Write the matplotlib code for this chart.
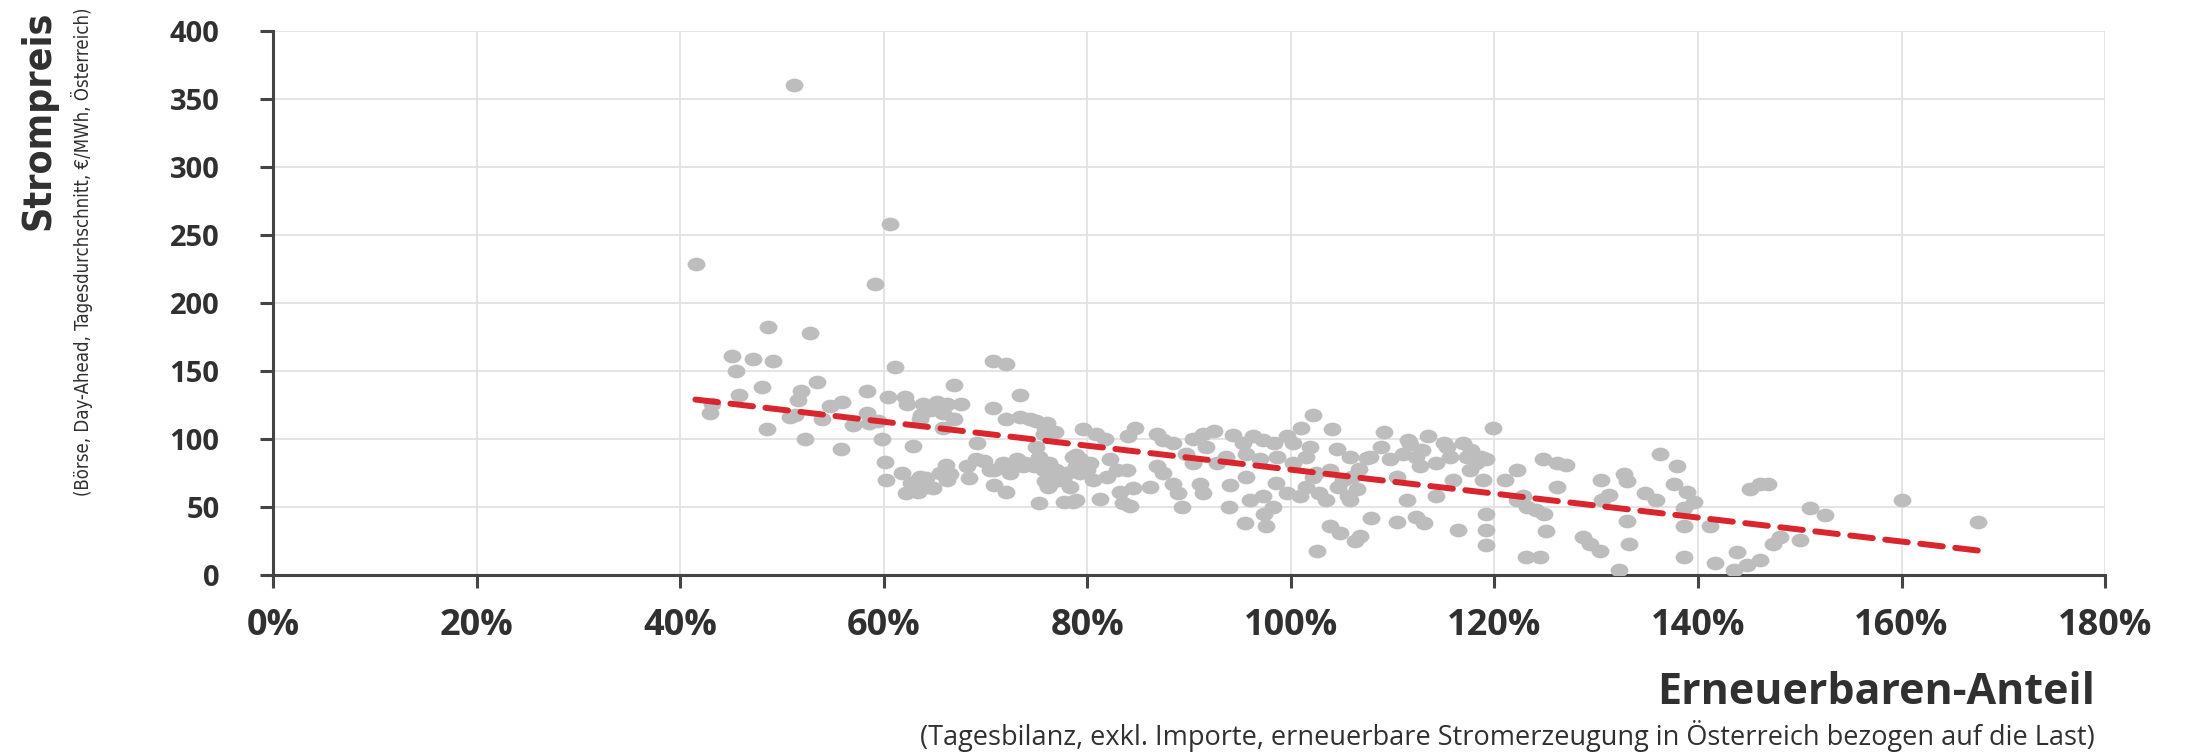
import matplotlib
matplotlib.use("Agg")
import matplotlib.pyplot as plt
from matplotlib import font_manager as fm
from matplotlib.font_manager import FontProperties
from matplotlib.path import Path
from matplotlib.transforms import Affine2D

# Renewable share of daily demand (%) and day-ahead price (EUR/MWh), one point per day
share = [
    41.6, 42.9, 43.1, 45.1, 45.5, 45.8, 47.2, 48.0, 48.6, 48.5, 49.1, 50.8, 51.2, 51.3,
    51.6, 51.9, 52.3, 52.8, 53.4, 53.9, 54.7, 55.8, 55.9, 57.0, 58.4, 58.4, 58.6, 59.4,
    59.1, 59.8, 60.1, 60.2, 60.4, 60.6, 61.1, 61.8, 62.1, 62.3, 62.2, 62.7, 62.9, 63.4,
    63.4, 63.6, 63.6, 63.7, 63.9, 64.3, 64.2, 64.6, 64.8, 65.2, 65.5, 65.8, 65.8, 66.1,
    66.2, 66.5, 66.2, 66.9, 66.9, 67.6, 68.2, 68.4, 69.1, 69.2, 69.9, 70.4, 70.7, 70.8,
    70.8, 70.7, 71.7, 72.0, 72.0, 72.0, 72.4, 72.5, 73.1, 73.4, 73.4, 73.7, 73.9, 74.4,
    74.8, 75.0, 75.0, 75.3, 75.3, 75.7, 75.7, 75.8, 75.8, 76.1, 76.0, 76.2, 76.3, 76.8,
    76.9, 77.0, 77.6, 77.7, 77.3, 78.0, 78.3, 78.6, 78.6, 78.9, 78.9, 78.9, 79.3, 79.3,
    79.6, 80.0, 80.3, 80.6, 80.9,
    81.7, 84.7, 84.0, 86.8, 87.4, 88.4, 90.4, 91.4, 92.4, 91.7, 94.3, 95.3, 96.3, 97.3,
    98.3, 99.6, 100.2, 101.0, 102.2, 82.2, 82.9, 83.9, 81.9, 86.8, 87.4, 89.7, 90.4, 92.7,
    93.6, 81.2, 83.2, 84.5, 86.2, 83.5, 84.2, 88.4, 88.9, 89.3, 91.1, 91.4, 94.0, 93.9,
    95.6, 96.0, 95.5, 97.3, 97.4, 97.6, 98.2, 98.5, 99.6, 100.9, 101.5, 102.2, 102.6, 95.6,
    97.0, 98.6, 100.2, 101.5,
    104.0, 109.2, 113.5, 111.7, 115.0, 116.9, 119.9, 101.9, 104.5, 105.8, 107.8, 108.9,
    109.7, 111.0, 112.3, 112.7, 114.3, 115.6, 117.3, 118.2, 119.2, 102.5, 103.8, 105.1,
    106.5, 102.8, 103.5, 105.8, 110.4, 111.4, 114.3, 115.9, 117.6, 118.9, 119.2, 119.2,
    119.2, 103.8, 104.8, 106.3, 106.8, 107.9, 110.4, 112.3, 113.1, 116.4, 121.0, 122.2,
    122.8, 124.1, 124.8, 126.1, 126.1, 125.1, 123.1, 124.5, 106.0, 106.7, 107.5, 104.6,
    105.6, 112.9, 115.3, 117.7, 118.7, 111.5, 127.0, 124.9, 122.2, 123.2,
    136.3, 137.9, 130.5, 132.7, 133.0, 131.3, 130.6, 134.8, 135.9, 137.6, 138.9, 139.6,
    138.6, 133.0, 138.6, 128.7, 129.4, 130.4, 133.2, 138.6, 132.2, 145.1, 146.1, 146.9,
    141.2, 141.7, 143.8, 143.5, 144.8, 146.1, 147.4, 148.1, 150.0, 151.0, 152.5, 160.0,
    167.5,
]
price = [
    229, 119, 126, 161, 150, 132, 159, 138, 182, 107, 157, 116, 360, 118,
    129, 135, 100, 178, 142, 115, 124, 93, 127, 110, 135, 119, 112, 113,
    214, 100, 83, 70, 131, 258, 153, 75, 131, 126, 60, 68, 95, 70,
    61, 72, 115, 118, 126, 65, 71, 121, 64, 127, 75, 108, 119, 81,
    126, 74, 70, 115, 140, 126, 80, 71, 85, 97, 84, 77, 123, 66,
    77, 157, 82, 61, 155, 115, 75, 80, 85, 132, 116, 80, 82, 115,
    80, 94, 113, 87, 53, 104, 77, 108, 69, 65, 112, 82, 67, 105,
    77, 75, 70, 54, 70, 75, 65, 87, 54, 80, 88, 55, 85, 75,
    107, 77, 82, 70, 104,
    100, 108, 102, 104, 99, 97, 100, 104, 106, 94, 103, 97, 102, 99,
    97, 102, 97, 108, 118, 85, 77, 77, 72, 80, 75, 89, 82, 82,
    87, 56, 61, 64, 65, 53, 51, 67, 60, 50, 67, 60, 66, 50,
    72, 55, 38, 58, 45, 36, 50, 68, 60, 58, 65, 72, 18, 89,
    85, 87, 82, 87,
    107, 105, 102, 96, 97, 97, 108, 94, 93, 87, 87, 94,
    85, 89, 87, 80, 82, 87, 87, 82, 85, 75, 77, 70,
    63, 60, 55, 55, 72, 55, 58, 70, 77, 70, 45, 33,
    22, 36, 31, 25, 29, 42, 39, 43, 38, 33, 70, 77,
    58, 48, 85, 82, 65, 32, 13, 13, 72, 78, 86, 65,
    58, 92, 94, 92, 87, 99, 81, 45, 55, 50,
    89, 80, 70, 74, 69, 59, 55, 60, 55, 67, 61, 54,
    49, 40, 36, 28, 23, 18, 23, 13, 4, 63, 67, 67,
    36, 9, 17, 4, 7, 11, 23, 28, 26, 49, 44, 55,
    39,
]

# Linear trend drawn across the range of the data
trend_share = [41.5, 167.5]
trend_price = [129, 18]

x_ticks = [0, 20, 40, 60, 80, 100, 120, 140, 160, 180]
x_tick_labels = ["0%", "20%", "40%", "60%", "80%", "100%", "120%", "140%", "160%", "180%"]
y_ticks = [0, 50, 100, 150, 200, 250, 300, 350, 400]

TEXT = "#303030"
AXIS = "#444444"
DPI = 100


def narrow_font(bold):
    """Find a condensed face (Liberation Sans Narrow or DejaVu Sans Condensed)."""
    def weight_ok(f):
        w = f.weight
        if isinstance(w, str):
            b = w in ("bold", "heavy", "extra bold", "black", "demibold", "semibold")
        else:
            b = w >= 600
        return b == bold

    def is_narrow(f):
        s = f.stretch
        if "Narrow" in f.name or "Condensed" in f.name:
            return True
        if isinstance(s, str):
            return "condensed" in s
        return s < 500

    best = None
    for pref in ("Liberation Sans Narrow", "DejaVu Sans", None):
        for f in fm.fontManager.ttflist:
            if f.style != "normal" or not weight_ok(f) or not is_narrow(f):
                continue
            if pref is None or f.name == pref:
                best = f.fname
                break
        if best:
            break
    if best:
        return FontProperties(fname=best)
    return FontProperties(family="DejaVu Sans", weight="bold" if bold else "normal")


def fit_vertical(text, length_px, renderer):
    """Scale a rotated text so its run length equals length_px."""
    bb = text.get_window_extent(renderer)
    text.set_fontsize(text.get_fontsize() * length_px / bb.height)


fig = plt.figure(figsize=(21.86, 7.54), dpi=DPI)
ax = fig.add_axes([0.1249, 0.2374, 0.8381, 0.7215])

# slightly wide dots
dot = Path.unit_circle().transformed(Affine2D().scale(1.3, 1.0))
ax.scatter(share, price, s=165, marker=dot, color="#bdbdbd", linewidths=0, zorder=3)

ax.plot(trend_share, trend_price, color="#d9252d", lw=4.3, dashes=(3.8, 2.1),
        dash_capstyle="round", zorder=4)

ax.set_xlim(0, 180)
ax.set_ylim(0, 400)
ax.set_xticks(x_ticks)
ax.set_xticklabels(x_tick_labels)
ax.set_yticks(y_ticks)

ax.grid(True, color="#e2e2e2", lw=1.3, zorder=0)
ax.set_axisbelow(True)
for side in ("top", "right"):
    ax.spines[side].set_visible(False)
for side in ("left", "bottom"):
    ax.spines[side].set_color(AXIS)
    ax.spines[side].set_linewidth(2.2)

ax.tick_params(axis="both", direction="out", length=9.5, width=2.2, color=AXIS,
               labelcolor=TEXT)
ax.tick_params(axis="x", pad=14)
ax.tick_params(axis="y", pad=29)
for lab in ax.get_xticklabels():
    lab.set_fontfamily("Open Sans")
    lab.set_fontweight("bold")
    lab.set_fontsize(26)
for lab in ax.get_yticklabels():
    lab.set_fontfamily("Open Sans")
    lab.set_fontweight("bold")
    lab.set_fontsize(21)

# y-axis title and its note, both set in a condensed face
renderer = fig.canvas.get_renderer()
ytitle = fig.text(0.0178, 0.9854, "Strompreis", rotation=90, ha="center", va="top",
                  fontproperties=narrow_font(True), fontsize=28, color=TEXT)
ynote = fig.text(0.0377, 0.9907, "(Börse, Day-Ahead, Tagesdurchschnitt, €/MWh, Österreich)",
                 rotation=90, ha="center", va="top",
                 fontproperties=narrow_font(False), fontsize=14, color=TEXT)
fit_vertical(ytitle, 219, renderer)
fit_vertical(ynote, 492, renderer)

# x-axis title and its note
fig.text(0.9584, 0.066, "Erneuerbaren-Anteil", ha="right", va="baseline",
         fontsize=31, fontweight="bold", family="Open Sans", color=TEXT)
fig.text(0.9584, 0.0115,
         "(Tagesbilanz, exkl. Importe, erneuerbare Stromerzeugung in Österreich bezogen auf die Last)",
         ha="right", va="baseline", fontsize=19.5, family="Open Sans", color=TEXT)

fig.savefig("out.png", dpi=DPI, facecolor="white")
